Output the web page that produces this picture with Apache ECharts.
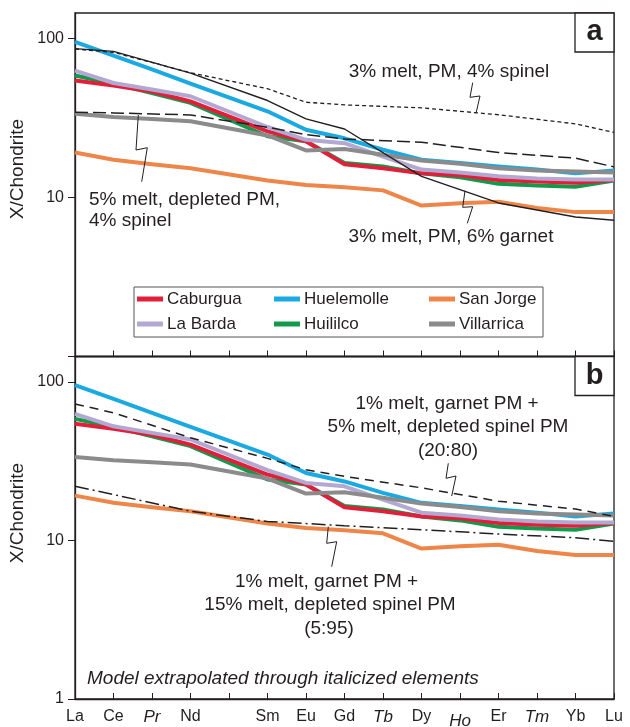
<!DOCTYPE html>
<html>
<head>
<meta charset="utf-8">
<script src="https://cdn.jsdelivr.net/npm/echarts/dist/echarts.min.js"></script>
<style>
html,body{margin:0;padding:0;background:#fff;}
#chart{width:630px;height:727px;}
</style>
</head>
<body>
<div id="chart"></div>
<script>
// ---------- data ----------
const categories = ['La','Ce','Pr','Nd','Pm','Sm','Eu','Gd','Tb','Dy','Ho','Er','Tm','Yb','Lu'];
const tickLabels = ['La','Ce','Pr','Nd','','Sm','Eu','Gd','Tb','Dy','Ho','Er','Tm','Yb','Lu'];
const italicLabels = ['Pr','Tb','Ho','Tm'];
const yTicks = [1, 10, 100];
const yTickLabelsA = [10, 100];
const yTickLabelsB = [1, 10, 100];

const caburgua   = [54.5, 50.7, 46.5, 40.3, null, 26.1, 22.6, 16.2, 15.3, 14.2, 13.8, 12.9, 12.6, 12.4, 12.9];
const huelemolle = [95.5, 78.3, 64.0, 52.2, null, 34.9, 26.7, 23.6, 20.0, 17.3, 16.5, 15.7, 15.0, 14.2, 14.8];
const sanJorge   = [19.2, 17.3, 16.2, 15.3, null, 12.8, 12.0, 11.6, 11.1, 8.9, 9.2, 9.4, 8.6, 8.1, 8.1];
const laBarda    = [63.0, 52.6, 47.8, 43.4, null, 27.8, 23.1, 22.0, 18.1, 15.0, 14.4, 13.6, 13.2, 13.0, 13.0];
const huililco   = [58.6, 52.2, 45.5, 39.4, null, 24.3, 22.6, 16.5, 15.7, 14.2, 13.4, 12.2, 11.9, 11.7, 12.8];
const villarrica = [33.7, 32.1, 31.2, 30.2, null, 24.6, 19.8, 20.2, 18.6, 17.1, 16.3, 15.3, 14.8, 14.6, 14.4];

// panel a models
const pmSpinel3   = [86.0, 82.0, null, 61.0, null, 48.4, 39.8, 38.3, null, 36.7, null, 33.2, null, 29.1, 25.7];
const pmGarnet3   = [86.6, 83.2, null, 60.7, null, 40.8, 31.3, 27.0, null, 13.6, null, 9.25, null, 7.55, 7.2];
const depSpinel5  = [34.4, 34.1, null, 33.1, null, 27.7, 24.9, 23.4, null, 22.3, null, 19.2, null, 17.7, 15.6];
// panel b models
const mix2080     = [72.8, 64.0, null, 44.5, null, 33.0, 28.0, 25.4, null, 21.5, null, 17.7, null, 15.8, 14.2];
const mix595      = [22.0, 19.5, null, 15.3, null, 13.2, 12.8, 12.4, null, 11.7, null, 11.0, null, 10.4, 9.9];

// ---------- styling ----------
const FONT = '"Liberation Sans", Arial, Helvetica, sans-serif';
const INK = '#231f20';
const samples = [
  {name:'San Jorge',  data:sanJorge,   color:'#ef8649'},
  {name:'Huililco',   data:huililco,   color:'#13994a'},
  {name:'Caburgua',   data:caburgua,   color:'#e21f3b'},
  {name:'La Barda',   data:laBarda,    color:'#b3a8d2'},
  {name:'Huelemolle', data:huelemolle, color:'#1ba9e1'},
  {name:'Villarrica', data:villarrica, color:'#8b8b8c'}
];

function sampleSeries(idx){
  return samples.map(s => ({
    name: s.name, type:'line', xAxisIndex:idx, yAxisIndex:idx,
    data: s.data, connectNulls:true, symbol:'none', silent:true,
    color: s.color,
    lineStyle:{color:s.color, width:4, join:'round'}, z:2
  }));
}
function modelSeries(idx, name, data, type, width){
  return {name, type:'line', xAxisIndex:idx, yAxisIndex:idx, data, connectNulls:true,
    symbol:'none', silent:true, color:INK,
    lineStyle:{color:INK, width:width, type:type}, z:5};
}

function xAxis(idx, showLabels){
  return {
    type:'category', gridIndex:idx, data:categories, boundaryGap:false,
    axisLine:{show:true, lineStyle:{color:INK, width:1.3}},
    axisTick:{show:true, inside:true, length:6, lineStyle:{color:INK, width:1}},
    axisLabel:{
      show:showLabels, interval:0, margin:10, fontSize:16, fontFamily:FONT, color:INK,
      formatter:(v, i) => {
        const lab = tickLabels[i];
        if (italicLabels.indexOf(lab) >= 0) return lab === 'Ho' ? '{h|'+lab+'}' : '{i|'+lab+'}';
        return lab;
      },
      rich:{
        i:{fontStyle:'italic', fontSize:17, fontFamily:FONT, color:INK},
        h:{fontStyle:'italic', fontSize:17, fontFamily:FONT, color:INK, padding:[4,0,0,0]}
      }
    },
    splitLine:{show:false}
  };
}
function yAxis(idx, labels){
  return {
    type:'log', logBase:10, gridIndex:idx, min:1, max:145,
    axisLine:{show:true, lineStyle:{color:INK, width:1.3}},
    axisTick:{show:true, inside:false, length:7, customValues:yTicks, lineStyle:{color:INK, width:1}},
    axisLabel:{
      fontSize:16, fontFamily:FONT, color:INK, margin:11, customValues:labels,
      formatter:(v) => String(Math.round(v))
    },
    minorTick:{show:false},
    splitLine:{show:false}
  };
}

const txt = (x, y, text, opts={}) => ({
  type:'text', x, y, z:20, silent:true,
  style:{text, fill:INK, font: (opts.style||'') + ' ' + (opts.size||19) + 'px ' + FONT,
    align: opts.align||'center', verticalAlign:'middle'}
});
const bolt = (pts) => ({type:'polyline', z:20, silent:true, shape:{points:pts},
  style:{stroke:INK, lineWidth:1, fill:null}});

const option = {
  animation:false,
  backgroundColor:'#fff',
  grid:[
    {left:75, right:16, top:13, height:343.5, show:true, borderColor:INK, borderWidth:1.3,
      backgroundColor:'transparent', containLabel:false, outerBoundsMode:'none'},
    {left:75, right:16, top:356.5, height:342.5, show:true, borderColor:INK, borderWidth:1.3,
      backgroundColor:'transparent', containLabel:false, outerBoundsMode:'none'}
  ],
  xAxis:[xAxis(0,false), xAxis(1,true)],
  yAxis:[yAxis(0, yTickLabelsA), yAxis(1, yTickLabelsB)],
  legend:[
    {data:['Caburgua','La Barda'], left:137, top:289},
    {data:['Huelemolle','Huililco'], left:274, top:289},
    {data:['San Jorge','Villarrica'], left:429, top:289}
  ].map(l => Object.assign(l, {
    orient:'vertical', icon:'rect', itemWidth:26, itemHeight:5, itemGap:5, padding:0,
    selectedMode:false,
    textStyle:{fontSize:17, fontFamily:FONT, color:INK, lineHeight:20, padding:[0,0,0,-1]}
  })),
  series:[
    ...sampleSeries(0),
    modelSeries(0, '3% melt, PM, 4% spinel', pmSpinel3, [4,3], 1.3),
    modelSeries(0, '3% melt, PM, 6% garnet', pmGarnet3, 'solid', 1.4),
    modelSeries(0, '5% melt, depleted PM, 4% spinel', depSpinel5, [13,5], 1.5),
    ...sampleSeries(1),
    modelSeries(1, '1% melt, garnet PM + 5% melt, depleted spinel PM (20:80)', mix2080, [9,6], 1.5),
    modelSeries(1, '1% melt, garnet PM + 15% melt, depleted spinel PM (5:95)', mix595, [14,4,2,4], 1.5)
  ],
  graphic:[
    {type:'text', x:18, y:169, rotation:Math.PI/2, z:20, silent:true,
      style:{text:'X/Chondrite', fill:INK, font:'19px '+FONT, align:'center', verticalAlign:'middle'}},
    {type:'text', x:18, y:513, rotation:Math.PI/2, z:20, silent:true,
      style:{text:'X/Chondrite', fill:INK, font:'19px '+FONT, align:'center', verticalAlign:'middle'}},
    {type:'rect', z:15, silent:true, shape:{x:575, y:13, width:39, height:39}, style:{fill:'#fff', stroke:INK, lineWidth:1.3}},
    txt(594.5, 32, 'a', {style:'bold', size:29}),
    {type:'rect', z:15, silent:true, shape:{x:575, y:356.5, width:39, height:39}, style:{fill:'#fff', stroke:INK, lineWidth:1.3}},
    txt(594.5, 376, 'b', {style:'bold', size:29}),
    {type:'rect', z:1, silent:true, shape:{x:134, y:287, width:409, height:50}, style:{fill:'#fff', stroke:'#555', lineWidth:1}},
    txt(449, 72, '3% melt, PM, 4% spinel'),
    bolt([[472.7,82.7],[470,97.3],[480,96],[476,113.3]]),
    txt(89, 200, '5% melt, depleted PM,', {align:'left'}),
    txt(89, 221, '4% spinel', {align:'left'}),
    bolt([[138.3,115],[136,150],[147.3,147.7],[141.7,181.7]]),
    txt(451, 237, '3% melt, PM, 6% garnet'),
    bolt([[465,190.7],[462.7,207.3],[472.7,206.7],[467.3,223.3]]),
    txt(447, 403.5, '1% melt, garnet PM +'),
    txt(448, 427, '5% melt, depleted spinel PM'),
    txt(448, 450.5, '(20:80)'),
    bolt([[448.3,463.3],[446,478.3],[456,476],[451.7,496]]),
    txt(326.5, 582, '1% melt, garnet PM +'),
    txt(330, 605, '15% melt, depleted spinel PM'),
    txt(329, 628.3, '(5:95)'),
    bolt([[328.3,526.7],[326.7,543.3],[336.7,541.7],[331.7,566.7]]),
    txt(87, 678.3, 'Model extrapolated through italicized elements', {style:'italic', align:'left'})
  ]
};

const chart = echarts.init(document.getElementById('chart'), null, {renderer:'canvas'});
chart.setOption(option);
</script>
</body>
</html>
